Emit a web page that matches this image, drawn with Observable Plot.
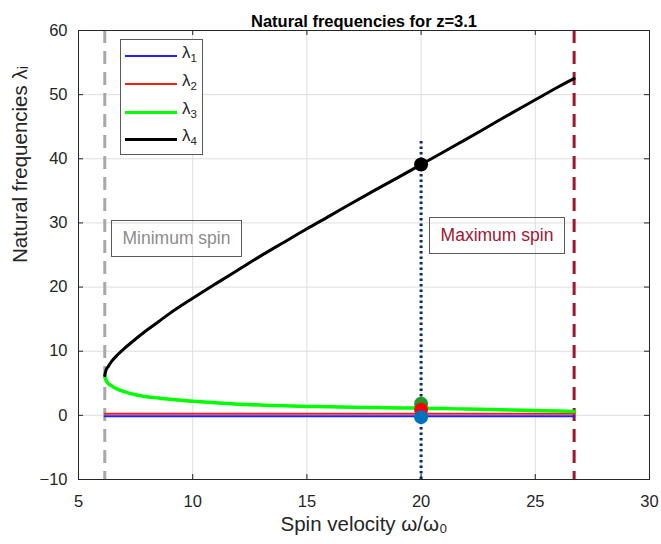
<!DOCTYPE html>
<html>
<head>
<meta charset="utf-8">
<script src="https://cdn.jsdelivr.net/npm/d3@7"></script>
<script src="https://cdn.jsdelivr.net/npm/@observablehq/plot@0.6"></script>
<style>
  html, body { margin: 0; padding: 0; background: white; }
  #wrap { position: relative; width: 661px; height: 544px; font-family: "Liberation Sans", Arial, sans-serif; }
  .legend { position: absolute; left: 120px; top: 39px; width: 83px; height: 116px; border: 1.3px solid #5a5a5a; background: white; box-sizing: border-box; }
  .legend .row { position: absolute; left: 4px; height: 20px; width: 80px; }
  .legend .sw { position: absolute; left: 0; width: 52px; top: 9px; }
  .legend .lab { position: absolute; left: 57px; top: -3px; font-size: 17px; color: #262626; }
  .legend sub { font-size: 11.5px; vertical-align: -4px; }
  .note { position: absolute; border: 1.5px solid #5a5a5a; box-sizing: border-box; font-size: 17.5px; text-align: center; line-height: 34px; }
</style>
</head>
<body>
<div id="wrap"></div>
<script>
// ---- data ----
const title = "Natural frequencies for z=3.1";
const xLabel = "Spin velocity ω/ω₀";
const yLabel = "Natural frequencies λᵢ";
const xTicks = [5, 10, 15, 20, 25, 30];
const yTicks = [-10, 0, 10, 20, 30, 40, 50, 60];

const omega   = [6.15, 6.2, 6.3, 6.45, 6.7, 7, 7.5, 8, 8.5, 9, 10, 11, 12, 13, 14, 15, 16, 17, 18, 19, 20, 21, 22, 23, 24, 25, 26, 26.7];
const lambda4 = [6.2, 7.0, 7.6, 8.4, 9.4, 10.4, 11.9, 13.3, 14.6, 15.9, 18.25, 20.5, 22.7, 24.9, 27.0, 29.1, 31.1, 33.15, 35.15, 37.1, 39.1, 41.1, 43.1, 45.15, 47.2, 49.2, 51.2, 52.5];
const lambda3 = [6.2, 5.5, 5.0, 4.6, 4.1, 3.7, 3.2, 2.9, 2.7, 2.5, 2.2, 1.95, 1.75, 1.6, 1.48, 1.4, 1.33, 1.27, 1.21, 1.16, 1.12, 1.05, 0.98, 0.9, 0.82, 0.74, 0.67, 0.62];
const omegaFlat = [6.15, 26.7];
const lambda2 = [0.25, 0.25];
const lambda1 = [-0.12, -0.12];

const minSpin = 6.15;
const maxSpin = 26.7;
const opSpin = 20;
const opLineTop = 43.1;
const opNames  = ["λ3", "λ2", "λ1", "λ4"];
const opValues = [1.8, 0.87, -0.28, 39.1];

// ---- build tables ----
const curve = (xs, ys) => xs.map((x, i) => ({x, y: ys[i]}));
const opPoints = opNames.map((n, i) => ({name: n, x: opSpin, y: opValues[i]}));
const opColors = {"λ3": "#22992a", "λ2": "#ff0000", "λ1": "#0072bd", "λ4": "#000000"};

const chart = Plot.plot({
  width: 661, height: 544,
  marginLeft: 78, marginRight: 12, marginTop: 30, marginBottom: 65,
  x: {domain: [5, 30]},
  y: {domain: [-10, 60]},
  style: {fontFamily: "'Liberation Sans', Arial, sans-serif", fontSize: "16.5px", color: "#262626", background: "white", overflow: "visible"},
  marks: [
    Plot.gridX(xTicks, {stroke: "#dedede", strokeOpacity: 1}),
    Plot.gridY(yTicks, {stroke: "#dedede", strokeOpacity: 1}),
    Plot.ruleX([minSpin], {stroke: "#a8a8a8", strokeWidth: 3, strokeDasharray: "13,8"}),
    Plot.ruleX([maxSpin], {stroke: "#a2142f", strokeWidth: 3, strokeDasharray: "13,8"}),
    Plot.ruleX([{x: opSpin, y1: -10, y2: opLineTop}], {x: "x", y1: "y1", y2: "y2", stroke: "#0b2b6b", strokeWidth: 3, strokeDasharray: "2.5,3"}),
    Plot.line(curve(omegaFlat, lambda1), {x: "x", y: "y", stroke: "#2020ff", strokeWidth: 2}),
    Plot.line(curve(omegaFlat, lambda2), {x: "x", y: "y", stroke: "#ff1a1a", strokeWidth: 2}),
    Plot.line(curve(omega, lambda3), {x: "x", y: "y", stroke: "#00ff00", strokeWidth: 3.5, curve: "monotone-x"}),
    Plot.line(curve(omega, lambda4), {x: "x", y: "y", stroke: "#000000", strokeWidth: 3, curve: "monotone-x"}),
    Plot.dot(opPoints, {x: "x", y: "y", r: 7, fill: d => opColors[d.name], stroke: null}),
    Plot.frame({stroke: "#262626", strokeWidth: 1}),
    Plot.tickX(xTicks, {x: d => d, insetTop: 444, stroke: "#262626"}),
    Plot.tickX(xTicks, {x: d => d, insetBottom: 444, stroke: "#262626"}),
    Plot.tickY(yTicks, {y: d => d, insetRight: 566, stroke: "#262626"}),
    Plot.tickY(yTicks, {y: d => d, insetLeft: 566, stroke: "#262626"}),
    Plot.axisX(xTicks, {tickSize: 0, tickPadding: 16, fontSize: 16.5, label: null}),
    Plot.axisY(yTicks, {tickSize: 0, tickPadding: 11, fontSize: 16.5, label: null}),
    Plot.text([xLabel], {text: d => d, frameAnchor: "bottom", dy: 51, lineAnchor: "bottom", fontSize: 20.5, fill: "#262626"}),
    Plot.text([yLabel], {text: d => d, frameAnchor: "left", dx: -66, dy: 8, rotate: -90, lineAnchor: "top", fontSize: 20.5, fill: "#262626"}),
    Plot.text([title], {text: d => d, frameAnchor: "top", dy: -15, fontWeight: "bold", fontSize: 16.5, fill: "#000"})
  ]
});

const wrap = document.getElementById("wrap");
wrap.appendChild(chart);

// legend
const legendItems = [
  {sub: "1", color: "#2020ff", w: 2},
  {sub: "2", color: "#ff1a1a", w: 2},
  {sub: "3", color: "#00ff00", w: 3.5},
  {sub: "4", color: "#000000", w: 3}
];
const lg = document.createElement("div");
lg.className = "legend";
legendItems.forEach((it, i) => {
  const row = document.createElement("div");
  row.className = "row";
  row.style.top = (6 + i * 27.8) + "px";
  row.innerHTML = `<div class="sw" style="border-top:${it.w}px solid ${it.color}"></div><div class="lab">λ<sub>${it.sub}</sub></div>`;
  lg.appendChild(row);
});
wrap.appendChild(lg);

// annotations
const notes = [
  {text: "Minimum spin", color: "#8c8c8c", left: 111, top: 220, w: 131, h: 37},
  {text: "Maximum spin", color: "#a2142f", left: 429, top: 217, w: 136, h: 37}
];
notes.forEach(n => {
  const d = document.createElement("div");
  d.className = "note";
  d.textContent = n.text;
  Object.assign(d.style, {left: n.left + "px", top: n.top + "px", width: n.w + "px", height: n.h + "px", color: n.color});
  wrap.appendChild(d);
});
</script>
</body>
</html>
